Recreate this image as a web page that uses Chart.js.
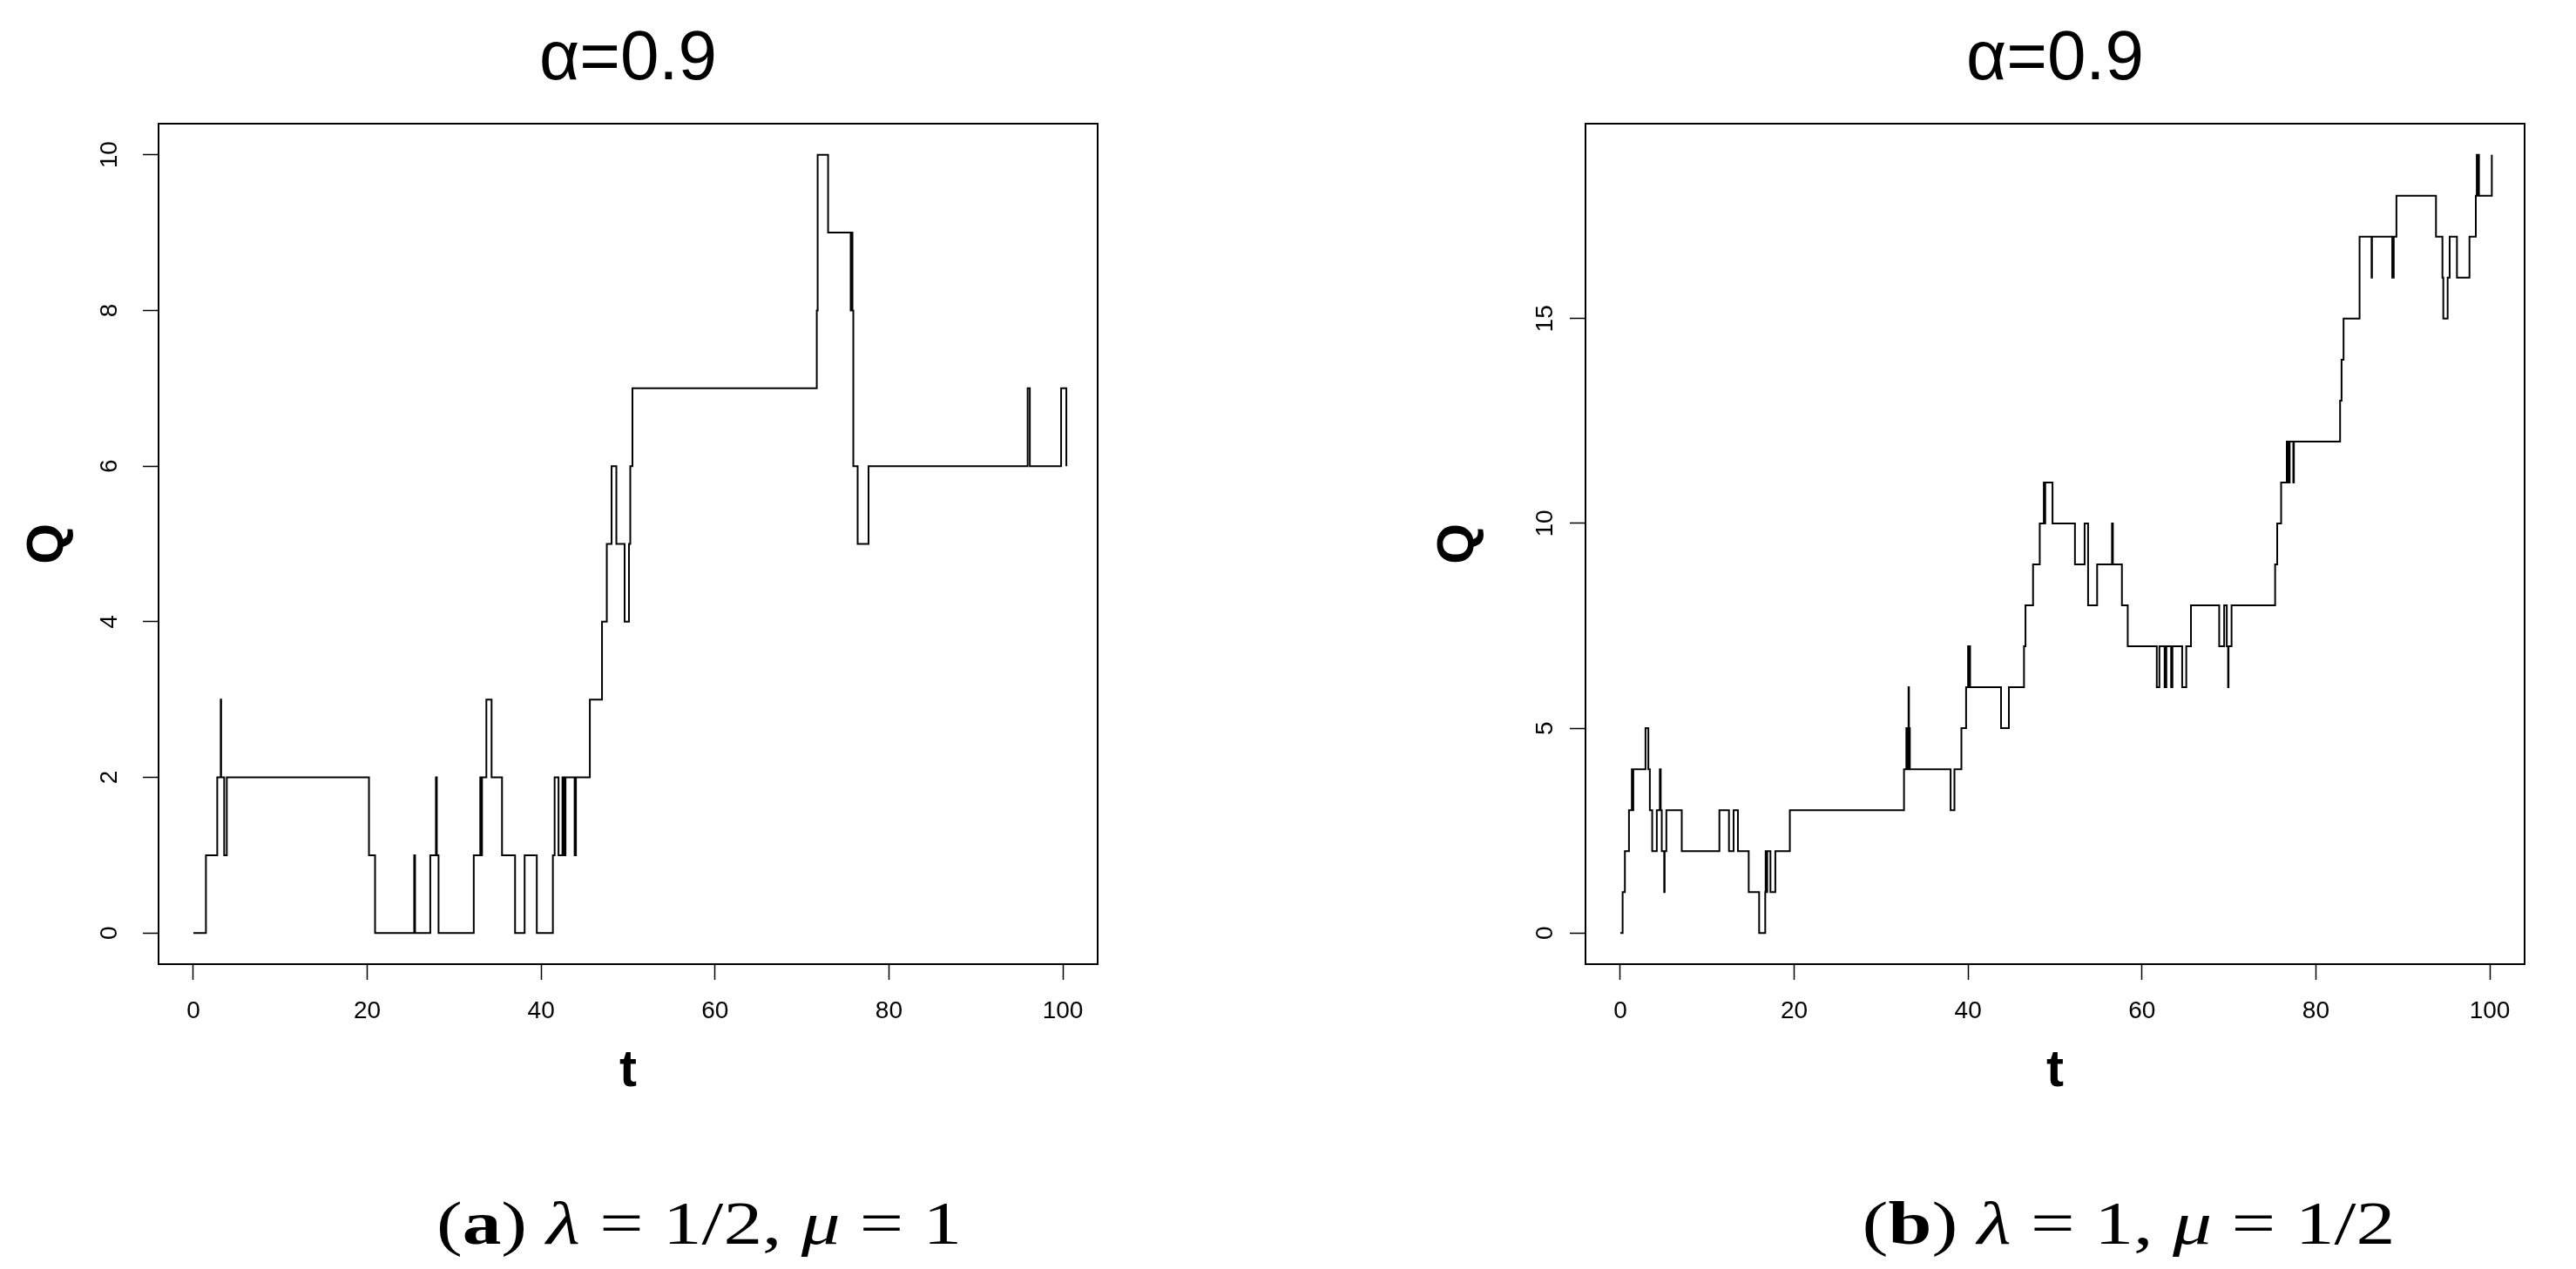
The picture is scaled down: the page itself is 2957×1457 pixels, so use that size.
<!DOCTYPE html>
<html>
<head>
<meta charset="utf-8">
<script src="https://cdn.jsdelivr.net/npm/chart.js@4.4.1/dist/chart.umd.min.js"></script>
<style>
html,body{margin:0;padding:0;background:#fff;}
body{width:2957px;height:1457px;position:relative;overflow:hidden;}
.wrap{position:absolute;top:0;height:1300px;}
.cap{position:absolute;font-family:"Liberation Serif","Times New Roman",serif;font-size:70px;line-height:1;color:#000;white-space:nowrap;transform-origin:center center;}
</style>
</head>
<body>
<div class="wrap" style="left:0;width:1478px"><canvas id="ca" width="1478" height="1300"></canvas></div>
<div class="wrap" style="left:1478px;width:1479px"><canvas id="cb" width="1479" height="1300"></canvas></div>
<div class="cap" id="capA">(<b>a</b>) <i>λ</i> = 1/2, <i>μ</i> = 1</div>
<div class="cap" id="capB">(<b>b</b>) <i>λ</i> = 1, <i>μ</i> = 1/2</div>
<script>
// ---- data (step function: value holds from t until next t) ----
const tA = [0, 1.45, 2.75, 3.15, 3.2, 3.55, 3.85, 20.2, 20.9, 25.4, 25.5, 27.25, 27.9, 28.0, 28.2,
  32.25, 33.0, 33.1, 33.2, 33.7, 34.3, 35.5, 37.0, 38.1, 39.5, 41.35, 41.55, 42.0, 42.45, 42.6, 42.8,
  43.85, 44.0, 45.6, 47.0, 47.55, 48.1, 48.65, 49.6, 50.1, 50.25, 50.5, 71.7, 71.8, 73.0, 75.6, 75.7,
  75.8, 75.9, 76.4, 77.65, 95.95, 96.2, 99.8, 100.4];
const qA = [0, 1, 2, 3, 2, 1, 2, 1, 0, 1, 0, 1, 2, 1, 0,
  1, 2, 1, 2, 3, 2, 1, 0, 1, 0, 1, 2, 1, 2, 1, 2,
  1, 2, 3, 4, 5, 6, 5, 4, 5, 6, 7, 8, 10, 9, 8, 9,
  8, 6, 5, 6, 7, 6, 7, 6];

const tB = [0, 0.27, 0.53, 1.0, 1.33, 1.42, 1.5, 2.9, 3.23, 3.4, 3.67, 4.2, 4.55, 4.65, 4.77, 5.05, 5.1, 5.3,
  7.07, 11.4, 12.5, 13.03, 13.53, 14.77, 15.97, 16.67, 16.72, 16.8, 16.9, 17.27, 17.83, 19.5,
  32.63, 32.9, 33.0, 33.1, 33.15, 33.2, 33.3, 37.99, 38.43, 39.23, 39.77, 40.0, 40.1, 40.15, 40.23,
  43.79, 44.69, 46.43, 46.6, 47.47, 48.24, 48.71, 48.8, 48.87, 49.71, 52.29, 53.4, 53.8, 54.84,
  56.55, 56.65, 57.69, 58.36,
  61.7, 62.0, 62.6, 62.8, 63.35, 63.5, 64.62, 65.09, 65.63, 68.88, 69.45, 69.75, 69.9, 69.95, 70.3,
  75.31, 75.55, 76.0, 76.65, 76.8, 76.98, 77.4, 77.47, 82.78, 82.95, 83.18, 85.02, 86.4, 86.45,
  88.78, 88.85, 88.9, 88.95, 89.26,
  93.81, 94.55, 94.65, 95.15, 95.38, 96.22, 97.66, 98.39, 98.5, 98.55, 98.65, 98.75, 100.23];
const qB = [0, 1, 2, 3, 4, 3, 4, 5, 4, 3, 2, 3, 4, 3, 2, 1, 2, 3,
  2, 3, 2, 3, 2, 1, 0, 1, 2, 1, 2, 1, 2, 3,
  4, 5, 4, 5, 6, 5, 4, 3, 4, 5, 6, 7, 6, 7, 6,
  5, 6, 7, 8, 9, 10, 11, 10, 11, 10, 9, 10, 8, 9,
  10, 9, 8, 7,
  6, 7, 6, 7, 6, 7, 6, 7, 8, 7, 8, 7, 6, 7, 8,
  9, 10, 11, 12, 11, 12, 11, 12, 13, 14, 15, 17, 16, 17,
  16, 17, 16, 17, 18,
  17, 16, 15, 16, 17, 16, 17, 18, 19, 18, 19, 18, 19];

const xTicks = [0, 20, 40, 60, 80, 100];
const yTicksA = [0, 2, 4, 6, 8, 10];
const yTicksB = [0, 5, 10, 15];
const titleText = 'α=0.9';
const xTitle = 't';
const yTitle = 'Q';

// ---- drawing ----
const boxPlugin = {
  id: 'box',
  afterDraw(chart) {
    const {ctx, chartArea: a} = chart;
    ctx.save();
    ctx.strokeStyle = '#000';
    ctx.lineWidth = 2;
    ctx.strokeRect(a.left, a.top, a.right - a.left, a.bottom - a.top);
    ctx.restore();
  }
};

function makeChart(id, ts, qs, yTicks, yRange, opts) {
  const data = ts.map((t, i) => ({x: t, y: qs[i]}));
  return new Chart(document.getElementById(id), {
    type: 'line',
    data: {datasets: [{data, stepped: true, borderColor: '#000', borderWidth: 2,
      pointRadius: 0, pointHoverRadius: 0, fill: false, tension: 0}]},
    plugins: [boxPlugin],
    options: {
      responsive: false, animation: false, devicePixelRatio: 1,
      events: [],
      layout: {padding: {left: opts.padLeft, right: opts.padRight, top: 0, bottom: 0}},
      plugins: {
        legend: {display: false}, tooltip: {enabled: false},
        title: {display: true, text: titleText, fullSize: false, color: '#000',
          font: {family: 'Liberation Sans', size: 80, weight: 'normal', lineHeight: 1.2},
          padding: {top: 21, bottom: 25}}
      },
      scales: {
        x: {
          type: 'linear', min: -4, max: 104,
          afterBuildTicks: s => { s.ticks = xTicks.map(v => ({value: v})); },
          afterFit: s => { s.height = 193; },
          grid: {display: true, drawOnChartArea: false, drawTicks: true, tickLength: 18,
            color: '#000', tickColor: '#000', tickWidth: 1.5},
          border: {display: false},
          ticks: {color: '#000', font: {family: 'Liberation Sans', size: 28}, padding: 19,
            maxRotation: 0, minRotation: 0, callback: v => String(v)},
          title: {display: true, text: xTitle, color: '#000',
            font: {family: 'Liberation Sans', size: 60, weight: 'bold', lineHeight: 1.2},
            padding: {top: 0, bottom: 34}}
        },
        y: {
          type: 'linear', min: yRange[0], max: yRange[1],
          afterBuildTicks: s => { s.ticks = yTicks.map(v => ({value: v})); },
          afterFit: s => { s.width = 182; },
          grid: {display: true, drawOnChartArea: false, drawTicks: true, tickLength: 18,
            color: '#000', tickColor: '#000', tickWidth: 1.5},
          border: {display: false},
          ticks: {color: '#000', font: {family: 'Liberation Sans', size: 28}, padding: opts.yPad,
            minRotation: 90, maxRotation: 90, crossAlign: 'center', callback: v => String(v)},
          title: {display: true, text: yTitle, color: '#000',
            font: {family: 'Liberation Sans', size: 60, weight: 'bold', lineHeight: 1.2},
            padding: {top: opts.qPad, bottom: 0}}
        }
      }
    }
  });
}

makeChart('ca', tA, qA, yTicksA, [-0.4, 10.4], {padLeft: 0, padRight: 218, yPad: 22, qPad: 19});
makeChart('cb', tB, qB, yTicksB, [-0.76, 19.76], {padLeft: 160, padRight: 59, yPad: 12, qPad: 0});

function placeCaption(id, cx, cy, targetW) {
  const el = document.getElementById(id);
  const r = el.getBoundingClientRect();
  const k = targetW / r.width;
  el.style.left = (cx - r.width / 2) + 'px';
  el.style.top = (cy - 35) + 'px';
  el.style.transform = 'scaleX(' + k.toFixed(3) + ')';
}
placeCaption('capA', 803, 1405, 603);
placeCaption('capB', 2443, 1405, 612);
</script>
</body>
</html>
